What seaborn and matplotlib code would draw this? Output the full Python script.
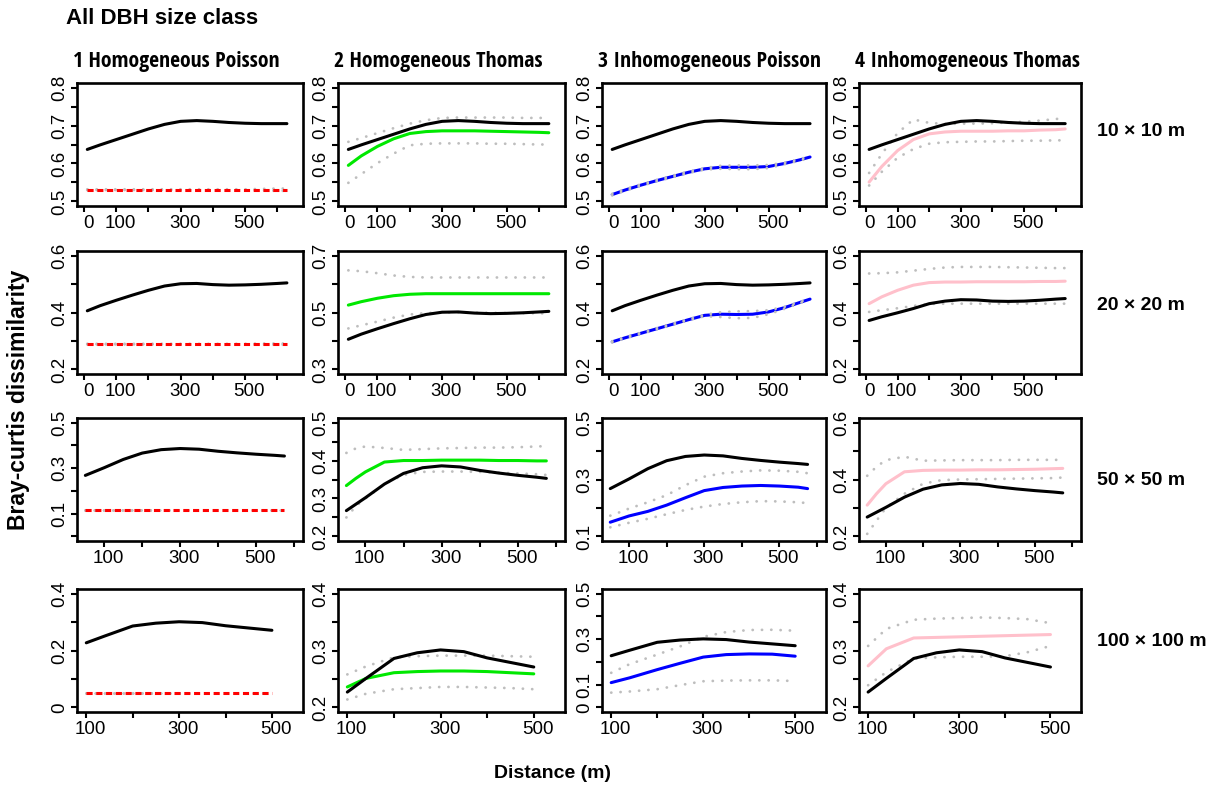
import numpy as np
import matplotlib
matplotlib.use('Agg')
import matplotlib.pyplot as plt
import seaborn as sns
from matplotlib import font_manager
from matplotlib.transforms import ScaledTranslation

# distance classes (m) for each quadrat size
DIST_SMALL = [10, 50, 100, 150, 200, 250, 300, 350, 400, 450, 500, 550, 600, 630]
DIST_50 = [50, 75, 100, 150, 200, 250, 300, 350, 400, 450, 500, 550, 575]
DIST_100 = [100, 140, 200, 250, 300, 350, 400, 450, 500]

# observed Bray-Curtis dissimilarity (black)
OBS_10 = [0.637, 0.649, 0.663, 0.677, 0.691, 0.703, 0.711, 0.713, 0.711, 0.708, 0.706, 0.705, 0.705, 0.705]
OBS_20 = [0.406, 0.424, 0.443, 0.461, 0.478, 0.493, 0.501, 0.502, 0.498, 0.496, 0.497, 0.499, 0.502, 0.504]
OBS_20_IT = [0.372, 0.385, 0.399, 0.414, 0.431, 0.440, 0.445, 0.444, 0.440, 0.439, 0.440, 0.443, 0.447, 0.449]
OBS_50 = [0.268, 0.285, 0.302, 0.338, 0.366, 0.381, 0.386, 0.383, 0.374, 0.367, 0.361, 0.356, 0.353]
OBS_100 = [0.227, 0.251, 0.286, 0.296, 0.301, 0.298, 0.287, 0.279, 0.271]

# 10 x 10 m
HP_10 = [0.531, 0.531, 0.531, 0.531, 0.531, 0.531, 0.531, 0.531, 0.531, 0.531, 0.531, 0.531, 0.531, 0.531]
HP_10_LO = [0.530, 0.530, 0.530, 0.530, 0.530, 0.530, 0.530, 0.530, 0.530, 0.530, 0.530, 0.529, 0.528, 0.528]
HP_10_HI = [0.532, 0.532, 0.532, 0.532, 0.532, 0.532, 0.532, 0.532, 0.532, 0.532, 0.532, 0.533, 0.534, 0.534]
HT_10 = [0.595, 0.620, 0.645, 0.665, 0.679, 0.684, 0.686, 0.686, 0.686, 0.685, 0.684, 0.683, 0.682, 0.681]
HT_10_LO = [0.549, 0.572, 0.601, 0.626, 0.648, 0.652, 0.653, 0.653, 0.653, 0.652, 0.652, 0.651, 0.650, 0.650]
HT_10_HI = [0.657, 0.667, 0.680, 0.693, 0.705, 0.714, 0.720, 0.721, 0.721, 0.721, 0.721, 0.720, 0.720, 0.720]
IP_10 = [0.518, 0.530, 0.543, 0.555, 0.566, 0.577, 0.586, 0.590, 0.590, 0.590, 0.592, 0.600, 0.610, 0.617]
IP_10_LO = [0.516, 0.528, 0.541, 0.553, 0.564, 0.575, 0.584, 0.586, 0.585, 0.585, 0.588, 0.598, 0.608, 0.615]
IP_10_HI = [0.520, 0.532, 0.545, 0.557, 0.568, 0.579, 0.588, 0.594, 0.595, 0.595, 0.596, 0.602, 0.612, 0.619]
IT_10 = [0.551, 0.592, 0.634, 0.663, 0.678, 0.683, 0.685, 0.685, 0.685, 0.686, 0.686, 0.688, 0.689, 0.691]
IT_10_LO = [0.542, 0.578, 0.615, 0.638, 0.652, 0.656, 0.657, 0.658, 0.658, 0.659, 0.660, 0.660, 0.661, 0.661]
IT_10_HI = [0.575, 0.625, 0.680, 0.716, 0.707, 0.704, 0.705, 0.705, 0.706, 0.708, 0.710, 0.713, 0.717, 0.720]

# 20 x 20 m
HP_20 = [0.289, 0.289, 0.289, 0.289, 0.289, 0.289, 0.289, 0.289, 0.289, 0.289, 0.289, 0.289, 0.289, 0.289]
HP_20_LO = [0.288, 0.288, 0.288, 0.288, 0.288, 0.288, 0.288, 0.288, 0.288, 0.288, 0.288, 0.287, 0.287, 0.287]
HP_20_HI = [0.290, 0.290, 0.290, 0.290, 0.290, 0.290, 0.290, 0.290, 0.290, 0.290, 0.290, 0.291, 0.291, 0.291]
HT_20 = [0.526, 0.538, 0.550, 0.559, 0.564, 0.566, 0.566, 0.566, 0.566, 0.566, 0.566, 0.566, 0.566, 0.566]
HT_20_LO = [0.444, 0.455, 0.468, 0.482, 0.493, 0.498, 0.500, 0.500, 0.499, 0.499, 0.498, 0.498, 0.497, 0.497]
HT_20_HI = [0.648, 0.645, 0.638, 0.630, 0.625, 0.623, 0.623, 0.623, 0.623, 0.623, 0.623, 0.623, 0.623, 0.623]
IP_20 = [0.297, 0.311, 0.327, 0.343, 0.359, 0.375, 0.390, 0.394, 0.393, 0.394, 0.402, 0.417, 0.436, 0.447]
IP_20_LO = [0.295, 0.309, 0.325, 0.341, 0.357, 0.373, 0.387, 0.384, 0.380, 0.381, 0.394, 0.413, 0.434, 0.445]
IP_20_HI = [0.299, 0.313, 0.329, 0.345, 0.361, 0.377, 0.392, 0.401, 0.404, 0.405, 0.408, 0.420, 0.438, 0.449]
IT_20 = [0.431, 0.455, 0.478, 0.496, 0.505, 0.507, 0.507, 0.508, 0.508, 0.508, 0.508, 0.509, 0.509, 0.510]
IT_20_LO = [0.402, 0.408, 0.415, 0.423, 0.430, 0.431, 0.431, 0.431, 0.431, 0.431, 0.431, 0.431, 0.431, 0.431]
IT_20_HI = [0.537, 0.538, 0.541, 0.547, 0.553, 0.558, 0.560, 0.560, 0.560, 0.559, 0.558, 0.557, 0.556, 0.556]

# 50 x 50 m
HP_50 = [0.117, 0.117, 0.117, 0.117, 0.117, 0.117, 0.117, 0.117, 0.117, 0.117, 0.117, 0.117, 0.117]
HP_50_LO = [0.116, 0.116, 0.116, 0.116, 0.116, 0.116, 0.116, 0.116, 0.116, 0.116, 0.116, 0.116, 0.116]
HP_50_HI = [0.118, 0.118, 0.118, 0.118, 0.118, 0.118, 0.118, 0.118, 0.118, 0.118, 0.118, 0.118, 0.118]
HT_50 = [0.334, 0.353, 0.370, 0.396, 0.400, 0.400, 0.401, 0.401, 0.401, 0.400, 0.400, 0.399, 0.399]
HT_50_LO = [0.250, 0.280, 0.300, 0.338, 0.362, 0.370, 0.371, 0.371, 0.370, 0.368, 0.366, 0.364, 0.362]
HT_50_HI = [0.420, 0.432, 0.437, 0.433, 0.428, 0.430, 0.432, 0.433, 0.434, 0.434, 0.435, 0.437, 0.438]
IP_50 = [0.150, 0.161, 0.172, 0.188, 0.210, 0.236, 0.261, 0.272, 0.277, 0.279, 0.277, 0.273, 0.268]
IP_50_LO = [0.132, 0.140, 0.148, 0.162, 0.178, 0.193, 0.205, 0.214, 0.220, 0.224, 0.223, 0.220, 0.217]
IP_50_HI = [0.173, 0.185, 0.198, 0.220, 0.245, 0.280, 0.310, 0.322, 0.328, 0.332, 0.331, 0.327, 0.322]
IT_50 = [0.310, 0.350, 0.385, 0.427, 0.432, 0.433, 0.433, 0.434, 0.434, 0.435, 0.436, 0.438, 0.439]
IT_50_LO = [0.209, 0.255, 0.300, 0.350, 0.385, 0.398, 0.400, 0.401, 0.402, 0.403, 0.404, 0.405, 0.407]
IT_50_HI = [0.413, 0.445, 0.468, 0.480, 0.466, 0.467, 0.468, 0.468, 0.468, 0.469, 0.469, 0.469, 0.469]

# 100 x 100 m
HP_100 = [0.051, 0.051, 0.051, 0.051, 0.051, 0.051, 0.051, 0.051, 0.051]
HP_100_LO = [0.050, 0.050, 0.050, 0.050, 0.050, 0.050, 0.050, 0.050, 0.050]
HP_100_HI = [0.052, 0.052, 0.052, 0.052, 0.052, 0.052, 0.052, 0.052, 0.052]
HT_100 = [0.236, 0.251, 0.261, 0.263, 0.264, 0.264, 0.263, 0.261, 0.259]
HT_100_LO = [0.214, 0.224, 0.232, 0.234, 0.236, 0.236, 0.235, 0.234, 0.232]
HT_100_HI = [0.258, 0.272, 0.288, 0.290, 0.291, 0.291, 0.291, 0.290, 0.289]
IP_100 = [0.109, 0.130, 0.166, 0.194, 0.221, 0.232, 0.235, 0.234, 0.225]
IP_100_LO = [0.065, 0.070, 0.080, 0.098, 0.115, 0.118, 0.119, 0.119, 0.116]
IP_100_HI = [0.152, 0.190, 0.232, 0.268, 0.310, 0.331, 0.340, 0.341, 0.337]
IT_100 = [0.273, 0.303, 0.322, 0.323, 0.324, 0.325, 0.326, 0.327, 0.328]
IT_100_LO = [0.239, 0.262, 0.286, 0.288, 0.289, 0.289, 0.290, 0.297, 0.308]
IT_100_HI = [0.308, 0.338, 0.354, 0.356, 0.357, 0.358, 0.357, 0.355, 0.348]

MODEL_TITLES = ['1 Homogeneous Poisson', '2 Homogeneous Thomas',
                '3 Inhomogeneous Poisson', '4 Inhomogeneous Thomas']
SCALE_LABELS = ['10 × 10 m', '20 × 20 m', '50 × 50 m', '100 × 100 m']
MODEL_COLORS = ['#FF0000', '#00E800', '#0000FF', '#FFC0CB']

# axis ranges (before R-style 4% padding), tick steps and labelled ticks
Y_RANGES = [[(0.5, 0.8), (0.5, 0.8), (0.5, 0.8), (0.5, 0.8)],
            [(0.2, 0.6), (0.3, 0.7), (0.2, 0.6), (0.2, 0.6)],
            [(0.0, 0.5), (0.2, 0.5), (0.1, 0.5), (0.2, 0.6)],
            [(0.0, 0.4), (0.2, 0.4), (0.0, 0.5), (0.2, 0.4)]]
Y_STEPS = [[0.05, 0.05, 0.05, 0.05],
           [0.1, 0.1, 0.1, 0.1],
           [0.1, 0.05, 0.1, 0.1],
           [0.1, 0.05, 0.1, 0.05]]
Y_LABELLED = [[[0.5, 0.6, 0.7, 0.8]] * 4,
              [[0.2, 0.4, 0.6], [0.3, 0.5, 0.7], [0.2, 0.4, 0.6], [0.2, 0.4, 0.6]],
              [[0.1, 0.3, 0.5], [0.2, 0.3, 0.4, 0.5], [0.1, 0.3, 0.5], [0.2, 0.4, 0.6]],
              [[0.0, 0.2, 0.4], [0.2, 0.3, 0.4], [0.0, 0.1, 0.3, 0.5], [0.2, 0.3, 0.4]]]
X_LIMS = [(-22, 680), (-22, 680), (28, 624), (80, 567)]
X_TICKS = [[0, 100, 200, 300, 400, 500, 600], [0, 100, 200, 300, 400, 500, 600],
           [100, 200, 300, 400, 500, 600], [100, 200, 300, 400, 500]]
X_LABELLED = [0, 100, 300, 500]

# layout in pixels
FIG_W, FIG_H = 1220, 788
COL_LEFT = [77, 338, 602, 859]
COL_W = [226, 227, 224, 222]
ROW_TOP = [83, 251, 418, 589]
ROW_H = 123
ROW_LABEL_Y = [132, 305, 480, 642]
TITLE_W = 207  # pixel width of "1 Homogeneous Poisson"

sns.set_theme(style='ticks')
plt.rcParams['font.family'] = ['Liberation Sans', 'DejaVu Sans']
plt.rcParams['text.color'] = 'black'
plt.rcParams['axes.labelcolor'] = 'black'


def condensed_bold():
    # a narrow bold face for the column titles, if one is installed
    for pref in ['Liberation Sans Narrow', 'Noto Sans', 'Open Sans', 'Roboto', 'DejaVu Sans']:
        for f in font_manager.fontManager.ttflist:
            w = f.weight if isinstance(f.weight, int) else {'bold': 700}.get(str(f.weight), 400)
            if (f.name.startswith(pref) and f.stretch in ('condensed', 'semi-condensed')
                    and w >= 700 and f.style == 'normal'):
                return f.fname
    return None


dists = [DIST_SMALL, DIST_SMALL, DIST_50, DIST_100]
obs = [[OBS_10] * 4, [OBS_20, OBS_20, OBS_20, OBS_20_IT], [OBS_50] * 4, [OBS_100] * 4]
models = [
    [(HP_10, HP_10_LO, HP_10_HI), (HT_10, HT_10_LO, HT_10_HI), (IP_10, IP_10_LO, IP_10_HI), (IT_10, IT_10_LO, IT_10_HI)],
    [(HP_20, HP_20_LO, HP_20_HI), (HT_20, HT_20_LO, HT_20_HI), (IP_20, IP_20_LO, IP_20_HI), (IT_20, IT_20_LO, IT_20_HI)],
    [(HP_50, HP_50_LO, HP_50_HI), (HT_50, HT_50_LO, HT_50_HI), (IP_50, IP_50_LO, IP_50_HI), (IT_50, IT_50_LO, IT_50_HI)],
    [(HP_100, HP_100_LO, HP_100_HI), (HT_100, HT_100_LO, HT_100_HI), (IP_100, IP_100_LO, IP_100_HI), (IT_100, IT_100_LO, IT_100_HI)],
]

ENV_KW = dict(color='#BEBEBE', lw=2.0, linestyle=(0, (0.05, 3.3)), dash_capstyle='round')
LINE_W = 2.2


def fmt(v):
    return '0' if abs(v) < 1e-9 else f'{v:g}'


fig = plt.figure(figsize=(FIG_W / 100, FIG_H / 100), dpi=100)
fig.patch.set_facecolor('white')
xlab_shift = ScaledTranslation(4 / 100, 0, fig.dpi_scale_trans)

for r in range(4):
    for c in range(4):
        l, w, t = COL_LEFT[c], COL_W[c], ROW_TOP[r]
        ax = fig.add_axes([l / FIG_W, 1 - (t + ROW_H) / FIG_H, w / FIG_W, ROW_H / FIG_H])
        x = dists[r]
        mean, lo, hi = models[r][c]
        color = MODEL_COLORS[c]

        def env():
            sns.lineplot(x=x, y=lo, ax=ax, **ENV_KW)
            sns.lineplot(x=x, y=hi, ax=ax, **ENV_KW)

        if c != 2:
            env()
        if c == 0:
            sns.lineplot(x=x, y=mean, ax=ax, color=color, lw=LINE_W, linestyle=(0, (2.0, 1.2)))
        else:
            sns.lineplot(x=x, y=mean, ax=ax, color=color, lw=LINE_W)
        if c == 2:
            env()
        sns.lineplot(x=x, y=obs[r][c], ax=ax, color='black', lw=LINE_W)

        a, b = Y_RANGES[r][c]
        pad = (b - a) * 0.04
        ax.set_ylim(a - pad, b + pad)
        step = Y_STEPS[r][c]
        yt = np.round(np.arange(a, b + step / 2, step), 3)
        ax.set_yticks(yt)
        ax.set_yticklabels([fmt(v) if any(abs(v - q) < 1e-6 for q in Y_LABELLED[r][c]) else '' for v in yt])

        ax.set_xlim(*X_LIMS[r])
        ax.set_xticks(X_TICKS[r])
        ax.set_xticklabels([fmt(v) if v in X_LABELLED else '' for v in X_TICKS[r]])

        ax.set_xlabel('')
        ax.set_ylabel('')
        for sp in ax.spines.values():
            sp.set_visible(True)
            sp.set_linewidth(1.9)
            sp.set_color('black')
        ax.tick_params(direction='out', length=4, width=1.5, color='black',
                       labelsize=13.5, pad=2.5, labelcolor='black')
        ax.tick_params(axis='y', labelrotation=90)
        for lab in ax.get_yticklabels():
            lab.set_verticalalignment('center')
        for lab in ax.get_xticklabels():
            lab.set_transform(lab.get_transform() + xlab_shift)
        ax.set_facecolor('white')
        ax.grid(False)

# titles and labels
fig.text(66 / FIG_W, 1 - 18 / FIG_H, 'All DBH size class', fontsize=16, fontweight='bold',
         ha='left', va='center')

narrow = condensed_bold()
if narrow:
    title_kw = dict(fontproperties=font_manager.FontProperties(fname=narrow))
else:
    title_kw = dict(fontweight='bold')
renderer = fig.canvas.get_renderer()
probe = fig.text(0, 0, MODEL_TITLES[0], fontsize=15, **title_kw)
title_size = 15 * TITLE_W / probe.get_window_extent(renderer).width
probe.remove()
for c, title in enumerate(MODEL_TITLES):
    txt = fig.text((COL_LEFT[c] - 4) / FIG_W, 1 - 61 / FIG_H, title, ha='left', va='center', **title_kw)
    txt.set_fontsize(title_size)

for r, lab in enumerate(SCALE_LABELS):
    fig.text(1097 / FIG_W, 1 - ROW_LABEL_Y[r] / FIG_H, lab, fontsize=14, fontweight='bold',
             ha='left', va='center')
fig.text(19 / FIG_W, 1 - 400 / FIG_H, 'Bray-curtis dissimilarity', fontsize=16.5, fontweight='bold',
         rotation=90, ha='center', va='center')
fig.text(553 / FIG_W, 1 - 773 / FIG_H, 'Distance (m)', fontsize=14, fontweight='bold',
         ha='center', va='center')

fig.savefig('out.png', dpi=100, facecolor='white')
